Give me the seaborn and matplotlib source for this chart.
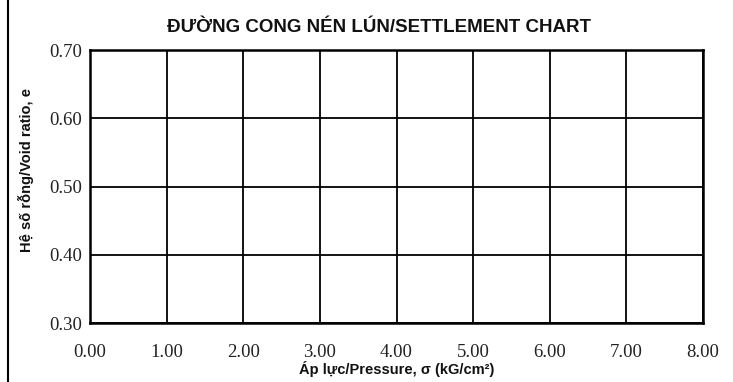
import numpy as np
import pandas as pd
import seaborn as sns
import matplotlib
matplotlib.use("Agg")
import matplotlib.pyplot as plt
from matplotlib.lines import Line2D

# chart data (empty settlement chart: only axes & grid)
x_ticks = [0.0, 1.0, 2.0, 3.0, 4.0, 5.0, 6.0, 7.0, 8.0]
y_ticks = [0.30, 0.40, 0.50, 0.60, 0.70]
pressure = []
void_ratio = []

title = "ĐƯỜNG CONG NÉN LÚN/SETTLEMENT CHART"
x_label = "Áp lực/Pressure, σ (kG/cm²)"
y_label = "Hệ số rỗng/Void ratio, e"

sns.set_style("white")
sans = ["Liberation Sans", "DejaVu Sans"]
serif = ["Liberation Serif", "DejaVu Serif"]

fig = plt.figure(figsize=(7.33, 3.82), dpi=100)
ax = fig.add_axes([90 / 733, 1 - 323 / 382, 613 / 733, 273 / 382])

df = pd.DataFrame({"pressure": pd.Series(pressure, dtype=float),
                   "void_ratio": pd.Series(void_ratio, dtype=float)})
sns.lineplot(data=df, x="pressure", y="void_ratio", ax=ax)

ax.set_xlim(x_ticks[0], x_ticks[-1])
ax.set_ylim(y_ticks[0], y_ticks[-1])
ax.set_xticks(x_ticks)
ax.set_yticks(y_ticks)
ax.set_xticklabels([f"{v:.2f}" for v in x_ticks], fontfamily=serif, fontsize=13.5)
ax.set_yticklabels([f"{v:.2f}" for v in y_ticks], fontfamily=serif, fontsize=13.5)
ax.tick_params(axis="both", direction="out", length=3, width=1, color="black",
               labelcolor="#222222")
ax.tick_params(axis="x", pad=12)
ax.tick_params(axis="y", pad=3)

ax.grid(True, color="black", linewidth=1.3)
for s in ax.spines.values():
    s.set_color("black")
    s.set_linewidth(1.8)

ax.set_xlabel(x_label, fontfamily=sans, fontweight="bold", fontsize=10.5,
              color="#111111")
ax.xaxis.set_label_coords(0.5, (323 - 369) / 273)
ax.xaxis.label.set_va("center")
ax.set_ylabel(y_label, fontfamily=sans, fontweight="bold", fontsize=10.5,
              color="#111111")
ax.yaxis.set_label_coords((26 - 90) / 613, (323 - 170) / 273)
ax.yaxis.label.set_va("center")

fig.text(379 / 733, 1 - 28 / 382, title, ha="center", va="center",
         fontfamily=sans, fontweight="bold", fontsize=13.5, color="#111111")

# left frame line of the page
fig.add_artist(Line2D([8 / 733, 8 / 733], [0, 1], color="black", linewidth=1.5,
                      transform=fig.transFigure))

fig.savefig("out.png", dpi=100)
